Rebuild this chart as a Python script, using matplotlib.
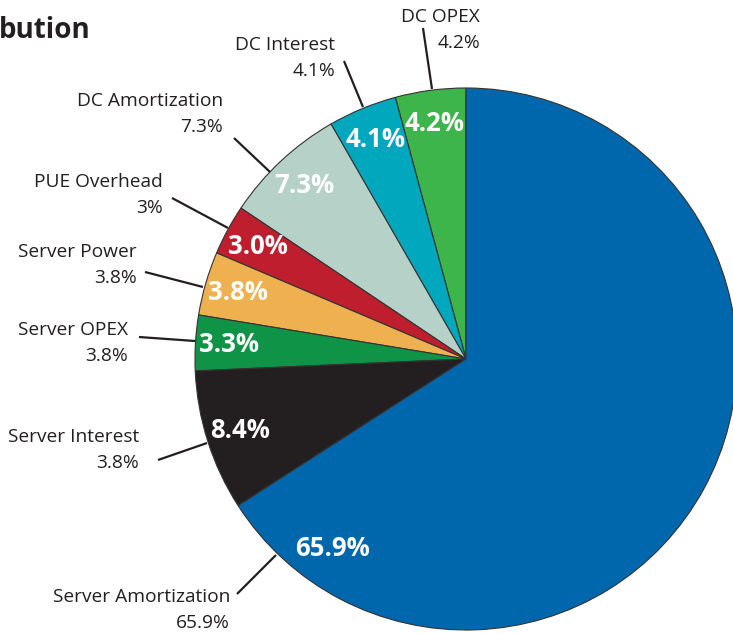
import matplotlib.pyplot as plt

# cost breakdown, counter-clockwise from 12 o'clock
names = ['DC OPEX', 'DC Interest', 'DC Amortization', 'PUE Overhead',
         'Server Power', 'Server OPEX', 'Server Interest', 'Server Amortization']
shares = [4.2, 4.1, 7.3, 3.0, 3.8, 3.3, 8.4, 65.9]
side_pct = ['4.2%', '4.1%', '7.3%', '3%', '3.8%', '3.8%', '3.8%', '65.9%']
colors = ['#3db54a', '#00a7bd', '#b6d2c8', '#be1e2d',
          '#efb050', '#0f9447', '#231f20', '#0067ac']

W, H = 733, 634
plt.rcParams['font.family'] = ['Open Sans', 'DejaVu Sans']

fig = plt.figure(figsize=(W / 100, H / 100), dpi=100)
ax = fig.add_axes([0, 0, 1, 1])


def py(y):
    # pixel rows count from the top
    return H - y


wedges, _, autotexts = ax.pie(
    shares, colors=colors, startangle=90, counterclock=True,
    center=(466, py(359)), radius=271, frame=True,
    autopct='%.1f%%', pctdistance=0.875,
    wedgeprops=dict(edgecolor='#333333', linewidth=0.8),
    textprops=dict(color='white', fontsize=18.5, fontweight='bold'),
)
ax.set_xlim(0, W)
ax.set_ylim(0, H)
ax.set_aspect('equal')
ax.axis('off')

# the big slice gets its label moved to the lower left
autotexts[-1].set_position((332, py(549)))

# side labels: right edge x, row of first line, leader line from/to
side_layout = [
    (480, 17, (423, 28), (432, 89)),
    (335, 45, (344, 61), (363, 107)),
    (223, 101, (234, 138), (270, 172)),
    (163, 182, (172, 198), (228, 228)),
    (137, 252, (145, 272), (203, 287)),
    (128, 330, (139, 337), (195, 341)),
    (139, 437, (158, 460), (207, 443)),
    (230, 597, (237, 594), (276, 555)),
]

for name, pct, (xr, y1, p0, p1) in zip(names, side_pct, side_layout):
    ax.text(xr, py(y1), name, ha='right', va='center', fontsize=13.8, color='#231f20')
    ax.text(xr, py(y1 + 26), pct, ha='right', va='center', fontsize=13.8, color='#231f20')
    ax.plot([p0[0], p1[0]], [py(p0[1]), py(p1[1])], color='#231f20', lw=1.6,
            solid_capstyle='butt')

ax.text(-1, py(30), 'bution', ha='left', va='center', fontsize=20,
        fontweight='bold', color='#231f20')

fig.savefig('out.png', dpi=100)
